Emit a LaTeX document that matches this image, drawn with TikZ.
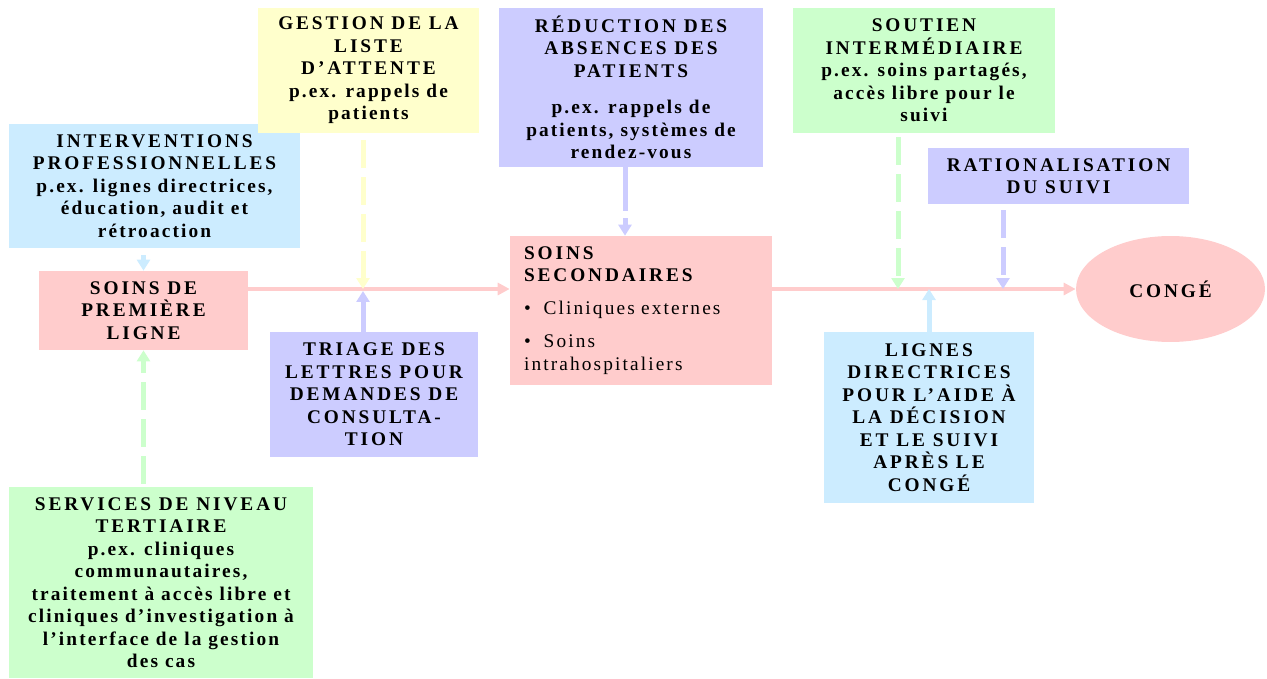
\documentclass[tikz,border=0pt]{standalone}
\usepackage{fontspec}
\setmainfont{Liberation Serif}
\newfontfamily\capsfont{Liberation Serif}[LetterSpace=15]
\newfontfamily\bodyfont{Liberation Serif}[LetterSpace=11]
\usetikzlibrary{arrows.meta,shapes.geometric}
\definecolor{cpink}{RGB}{255,204,204}
\definecolor{cblue}{RGB}{204,236,255}
\definecolor{cyellow}{RGB}{255,255,204}
\definecolor{clav}{RGB}{204,204,255}
\definecolor{cgreen}{RGB}{204,255,204}
\newcommand\hd[1]{{\capsfont\bfseries #1}}
\begin{document}
\begin{tikzpicture}[x=0.02cm,y=-0.02cm,
  box/.style={rectangle, inner sep=0pt, align=center, font=\bodyfont\bfseries\fontsize{11}{12.8}\selectfont},
  conn/.style={line width=0.1cm, -{Triangle[width=0.26cm,length=0.22cm]}},
  dsh/.style={conn, dash pattern=on 0.56cm off 0.18cm},
  mainln/.style={draw=cpink, line width=0.08cm, -{Triangle[width=0.24cm,length=0.24cm]}}
]
\useasboundingbox (0,0) rectangle (1267,679);

\node[box, fill=cblue, minimum width=5.82cm, minimum height=2.48cm] (interv) at (154.5,186)
  {\hd{INTERVENTIONS}\\ \hd{PROFESSIONNELLES}\\ p.ex. lignes directrices,\\ éducation, audit et\\ rétroaction};
\node[box, fill=cpink, minimum width=4.18cm, minimum height=1.58cm] (prem) at (143.5,310.5)
  {\hd{SOINS DE}\\ \hd{PREMIÈRE}\\ \hd{LIGNE}};
\node[box, fill=cyellow, minimum width=4.42cm, minimum height=2.5cm] (gest) at (368.5,70.5)
  {\hd{GESTION DE LA}\\ \hd{LISTE}\\ \hd{D’ATTENTE}\\ p.ex. rappels de\\ patients};
\node[box, fill=clav, minimum width=5.28cm, minimum height=3.18cm] (reduc) at (631,87.5)
  {\hd{RÉDUCTION DES}\\ \hd{ABSENCES DES}\\ \hd{PATIENTS}\\[8pt] p.ex. rappels de\\ patients, systèmes de\\ rendez-vous};
\node[box, fill=cgreen, minimum width=5.24cm, minimum height=2.5cm] (sout) at (924,70.5)
  {\hd{SOUTIEN}\\ \hd{INTERMÉDIAIRE}\\ p.ex. soins partagés,\\ accès libre pour le\\ suivi};
\node[box, fill=clav, minimum width=5.22cm, minimum height=1.12cm] (ratio) at (1058.5,176)
  {\hd{RATIONALISATION}\\ \hd{DU SUIVI}};
\node[box, fill=cpink, minimum width=5.24cm, minimum height=2.98cm, text width=4.68cm, align=left] (sec) at (641,310.5)
  {\hd{SOINS}\\ \hd{SECONDAIRES}\\[6pt] {\mdseries\textbullet\ \ Cliniques externes}\\[6pt] {\mdseries\textbullet\ \ Soins}\\ {\mdseries intrahospitaliers}};
\node[box, fill=clav, minimum width=4.16cm, minimum height=2.5cm] (triage) at (374,394.5)
  {\hd{TRIAGE DES}\\ \hd{LETTRES POUR}\\ \hd{DEMANDES DE}\\ \hd{CONSULTA-}\\ \hd{TION}};
\node[box, fill=cgreen, minimum width=6.08cm, minimum height=3.82cm] (serv) at (161,582.5)
  {\hd{SERVICES DE NIVEAU}\\ \hd{TERTIAIRE}\\ p.ex. cliniques\\ communautaires,\\ traitement à accès libre et\\ cliniques d’investigation à\\ l’interface de la gestion\\ des cas};
\node[box, fill=cblue, minimum width=4.2cm, minimum height=3.42cm] (lignes) at (929,417.5)
  {\hd{LIGNES}\\ \hd{DIRECTRICES}\\ \hd{POUR L’AIDE À}\\ \hd{LA DÉCISION}\\ \hd{ET LE SUIVI}\\ \hd{APRÈS LE}\\ \hd{CONGÉ}};
\node[ellipse, fill=cpink, inner sep=0pt, minimum width=3.78cm, minimum height=2.12cm,
  font=\bfseries\fontsize{11}{12.8}\selectfont] (conge) at (1170.5,289) {\hd{CONGÉ}};

\coordinate (m) at (0,289);
\coordinate (g) at (363,289);
\coordinate (rdx) at (625,0);
\coordinate (s) at (898,289);
\coordinate (r) at (1003,289);

\draw[mainln] (prem.east |- m) -- (sec.west |- m);
\draw[mainln] (sec.east |- m) -- (conge.west);

\draw[conn, draw=cblue, shorten <=0.14cm] (prem.north |- interv.south) -- (prem.north);
\draw[dsh, draw=cgreen, shorten <=0.06cm] (prem.south |- serv.north) -- (prem.south);
\draw[dsh, draw=cyellow, shorten <=0.14cm] (g |- gest.south) -- (g);
\draw[conn, draw=clav, shorten >=0.04cm] (g |- triage.north) -- (g);
\draw[conn, draw=clav, dash pattern=on 0.88cm off 0.14cm] (rdx |- reduc.south) -- (rdx |- sec.north);
\draw[dsh, draw=cgreen, shorten <=0.08cm] (s |- sout.south) -- (s);
\draw[dsh, draw=clav, shorten <=0.12cm] (r |- ratio.south) -- (r);
\draw[conn, draw=cblue] (lignes.north) -- (lignes.north |- m);
\end{tikzpicture}
\end{document}
